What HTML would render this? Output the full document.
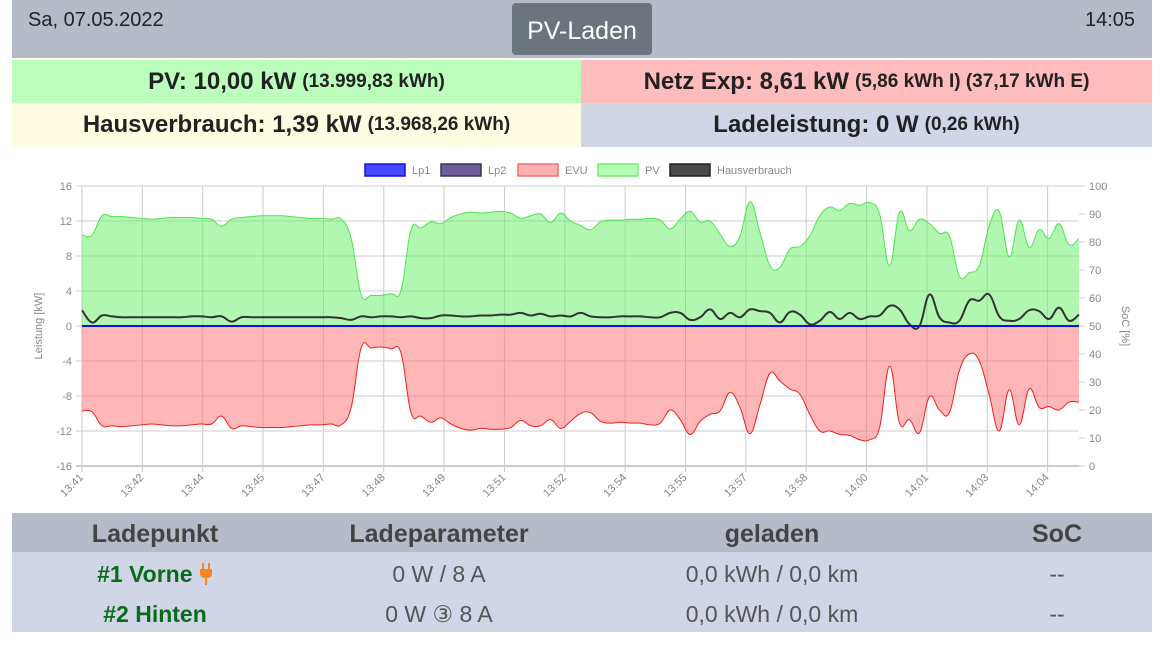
<!DOCTYPE html>
<html><head><meta charset="utf-8">
<style>
body{margin:0;width:1165px;height:648px;background:#fff;font-family:"Liberation Sans",sans-serif;position:relative;overflow:hidden}
.abs{position:absolute}
.row{position:absolute;display:flex;align-items:center;justify-content:center;font-weight:bold;color:#222;font-size:24px}
.row small{font-size:19px;margin-left:6px}
.th{position:absolute;top:513px;height:39px;line-height:42px;font-size:25px;font-weight:bold;color:#444;text-align:center}
.td{position:absolute;font-size:23px;color:#555;text-align:center;height:40px;line-height:42px}
</style></head><body>
<div class="abs" style="left:12px;top:0;width:1140px;height:58px;background:#b6bbc8"></div>
<div class="abs" style="left:28px;top:9px;font-size:20px;color:#222">Sa, 07.05.2022</div>
<div class="abs" style="left:512px;top:3px;width:140px;height:52px;background:#6c757d;border-radius:4px;color:#fff;font-size:25px;text-align:center;line-height:56px">PV-Laden</div>
<div class="abs" style="left:1085px;top:9px;font-size:20px;color:#222">14:05</div>
<div class="row" style="left:12px;top:60px;width:569px;height:43px;background:#bcffbc">PV: 10,00 kW<small>(13.999,83 kWh)</small></div>
<div class="row" style="left:581px;top:60px;width:571px;height:43px;background:#ffbcbc">Netz Exp: 8,61 kW<small>(5,86 kWh I) (37,17 kWh E)</small></div>
<div class="row" style="left:12px;top:103px;width:569px;height:44px;background:#fffde1">Hausverbrauch: 1,39 kW<small>(13.968,26 kWh)</small></div>
<div class="row" style="left:581px;top:103px;width:571px;height:44px;background:#d0d6e6">Ladeleistung: 0 W<small>(0,26 kWh)</small></div>

<svg class="abs" style="left:0;top:150px" width="1165" height="360" id="chart"></svg>

<div class="abs" style="left:12px;top:513px;width:1140px;height:39px;background:#b6bbc8"></div>
<div class="abs" style="left:12px;top:552px;width:1140px;height:80px;background:#d0d6e6"></div>
<div class="th" style="left:55px;width:200px">Ladepunkt</div>
<div class="th" style="left:289px;width:300px">Ladeparameter</div>
<div class="th" style="left:672px;width:200px">geladen</div>
<div class="th" style="left:1007px;width:100px">SoC</div>
<div class="td" style="left:55px;width:200px;top:553px;color:#0a6b1e;font-weight:bold">#1 Vorne <svg width="14" height="22" viewBox="0 0 14 22" style="vertical-align:-3px"><rect x="3" y="0" width="2" height="6" fill="#f7851e"/><rect x="9" y="0" width="2" height="6" fill="#f7851e"/><path d="M1 6 H13 V10 Q13 15 8 15 V22 H6 V15 Q1 15 1 10 Z" fill="#f7851e"/></svg></div>
<div class="td" style="left:55px;width:200px;top:593px;color:#0a6b1e;font-weight:bold">#2 Hinten</div>
<div class="td" style="left:289px;width:300px;top:553px">0 W / 8 A</div>
<div class="td" style="left:289px;width:300px;top:593px">0 W ③ 8 A</div>
<div class="td" style="left:622px;width:300px;top:553px">0,0 kWh / 0,0 km</div>
<div class="td" style="left:622px;width:300px;top:593px">0,0 kWh / 0,0 km</div>
<div class="td" style="left:1007px;width:100px;top:553px">--</div>
<div class="td" style="left:1007px;width:100px;top:593px">--</div>

<script>
const timeLabels=["13:41","13:42","13:44","13:45","13:47","13:48","13:49","13:51","13:52","13:54","13:55","13:57","13:58","14:00","14:01","14:03","14:04"];
const leftTicks=[16,12,8,4,0,-4,-8,-12,-16];
const rightTicks=[100,90,80,70,60,50,40,30,20,10,0];
const pv=[10.4,10.4,12.6,12.5,12.5,12.4,12.3,12.2,12.3,12.4,12.4,12.4,12.3,12.2,11.4,12.2,12.4,12.5,12.6,12.6,12.6,12.5,12.4,12.3,12.3,12.2,12.2,10.0,3.6,3.5,3.5,3.7,4.1,11.0,11.2,11.9,11.7,12.4,12.8,13.0,12.9,13.0,13.1,12.9,12.3,12.6,12.8,11.8,12.9,12.0,11.5,11.0,
11.9,12.1,12.1,12.2,12.2,12.3,12.1,11.1,12.2,13.1,11.9,12.0,10.5,9.1,10.3,14.2,10.7,6.9,6.7,8.8,9.1,10.3,12.6,13.6,13.2,14.0,13.8,14.1,12.8,6.9,13.0,10.9,12.2,11.7,10.6,10.3,5.7,6.1,6.9,11.5,13.1,7.9,12.1,9.0,11.0,10.0,11.7,9.3,10.0];
const house=[1.8,0.4,1.2,1.1,1.0,1.0,1.0,1.0,1.0,1.0,1.0,1.1,1.1,1.0,1.1,0.5,1.0,1.0,1.0,1.0,1.0,1.0,1.0,1.0,1.0,1.0,0.9,0.7,1.1,1.0,1.1,1.1,1.0,1.1,0.9,0.9,1.2,1.2,1.1,1.1,1.2,1.2,1.3,1.3,1.5,1.2,1.4,1.1,1.2,1.1,1.5,1.1,
1.0,1.0,1.1,1.1,1.1,1.0,1.0,1.5,1.5,0.7,1.0,1.9,0.8,1.5,1.0,1.9,1.7,1.5,0.4,1.6,1.3,0.2,0.6,1.6,0.8,1.5,0.8,1.1,1.2,2.3,1.9,0.2,0.0,3.6,1.0,0.4,0.6,2.9,2.9,3.6,1.1,0.6,0.8,1.8,1.7,0.8,2.1,0.6,1.3];
const evu=[-9.7,-9.8,-11.4,-11.4,-11.5,-11.4,-11.3,-11.2,-11.3,-11.4,-11.4,-11.3,-11.2,-11.2,-10.3,-11.7,-11.4,-11.5,-11.6,-11.6,-11.6,-11.5,-11.4,-11.3,-11.3,-11.2,-11.3,-9.3,-2.5,-2.5,-2.4,-2.6,-3.1,-9.9,-10.3,-11.0,-10.5,-11.2,-11.7,-11.9,-11.7,-11.8,-11.8,-11.6,-10.8,-11.4,-11.4,-10.7,-11.7,-10.9,-10.0,-9.9,
-10.9,-11.1,-11.0,-11.1,-11.1,-11.3,-11.1,-9.6,-10.7,-12.4,-10.9,-10.1,-9.7,-7.6,-9.3,-12.3,-9.0,-5.4,-6.3,-7.2,-7.8,-10.1,-12.0,-12.0,-12.4,-12.5,-13.0,-13.0,-11.6,-4.6,-11.1,-10.7,-12.2,-8.1,-9.6,-9.9,-5.1,-3.2,-4.0,-7.9,-12.0,-7.3,-11.3,-7.2,-9.3,-9.2,-9.6,-8.7,-8.7];
const lp1=pv.map(()=>0);

const svg=document.getElementById('chart');
const NS='http://www.w3.org/2000/svg';
const X0=82,X1=1079,TOP=36,BOT=316;
const y=v=>TOP+(16-v)/32*(BOT-TOP);
const yr=v=>BOT-v/100*(BOT-TOP);
const xi=i=>X0+i*(X1-X0)/(pv.length-1);
const xl=i=>X0+i*60.35;
function el(tag,attrs,parent){const e=document.createElementNS(NS,tag);for(const k in attrs)e.setAttribute(k,attrs[k]);(parent||svg).appendChild(e);return e;}
function smooth(data){
  const pts=data.map((v,i)=>[xi(i),y(v)]);
  let d=`M${pts[0][0]},${pts[0][1]}`;
  for(let i=0;i<pts.length-1;i++){
    const p0=pts[Math.max(0,i-1)],p1=pts[i],p2=pts[i+1],p3=pts[Math.min(pts.length-1,i+2)];
    const t=0.2;
    d+=` C${p1[0]+(p2[0]-p0[0])*t},${p1[1]+(p2[1]-p0[1])*t} ${p2[0]-(p3[0]-p1[0])*t},${p2[1]-(p3[1]-p1[1])*t} ${p2[0]},${p2[1]}`;
  }
  return d;
}
const grid=el('g',{});


leftTicks.forEach((t,k)=>{
  el('line',{x1:X0-6,x2:X1,y1:y(t),y2:y(t),stroke:t==-16?'#999':'#ccc','stroke-width':1},grid);
  const tx=el('text',{x:X0-10,y:y(t)+4,'text-anchor':'end','font-size':11,fill:'#888'});
  tx.textContent=t;
  
  
});
rightTicks.forEach(t=>{
  el('line',{x1:X1,x2:X1+6,y1:yr(t),y2:yr(t),stroke:'#ccc'},grid);
  const tx=el('text',{x:X1+10,y:yr(t)+4,'font-size':11,fill:'#888'});
  tx.textContent=t;
  
  
});
timeLabels.forEach((t,k)=>{
  const x=xl(k);
  el('line',{x1:x,x2:x,y1:TOP,y2:BOT+6,stroke:'#ccc'},grid);
  const tx=el('text',{x:x+2,y:BOT+12,'text-anchor':'end','font-size':11,fill:'#888',transform:`rotate(-45 ${x+2} ${BOT+12})`});
  tx.textContent=t;
  
  
});
function area(data,fill,stroke,name){
  const l=smooth(data);
  const d=l+` L${xi(data.length-1)},${y(0)} L${xi(0)},${y(0)} Z`;
  const p=el('path',{d,fill,stroke:'none'});
  
  
  const q=el('path',{d:l,fill:'none',stroke,'stroke-width':1});
  
  
}
area(pv,'rgba(100,240,100,0.5)','#4ee44e','pv');
area(evu,'rgba(255,110,110,0.5)','#f02020','evu');
const hl=el('path',{d:smooth(house),fill:'none',stroke:'#333','stroke-width':2});


let ld='';lp1.forEach((v,i)=>ld+=(i?' L':'M')+xi(i)+','+y(v));
const l1=el('path',{d:ld,fill:'none',stroke:'#1010e0','stroke-width':2});


const yt=el('text',{x:42,y:176,'font-size':11,fill:'#888','text-anchor':'middle',transform:'rotate(-90 42 176)'});
yt.textContent='Leistung [kW]';


const yt2=el('text',{x:1122,y:176,'font-size':11,fill:'#888','text-anchor':'middle',transform:'rotate(90 1122 176)'});
yt2.textContent='SoC [%]';


const legendItems=[["Lp1",365,'#4848ff','#1010e0'],["Lp2",441,'#6e5e98','#3c3060'],["EVU",518,'#ffb0b0','#f07070'],["PV",598,'#b4ffb4','#70ee70'],["Hausverbrauch",670,'#4a4a4a','#222']];
legendItems.forEach(([n,x,f,s])=>{
  const g=el('g',{});
  
  
  el('rect',{x,y:14,width:40,height:12,fill:f,stroke:s,'stroke-width':1.5},g);
  const t=el('text',{x:x+47,y:24,'font-size':11,fill:'#888'},g);t.textContent=n;
});
</script>
</body></html>
